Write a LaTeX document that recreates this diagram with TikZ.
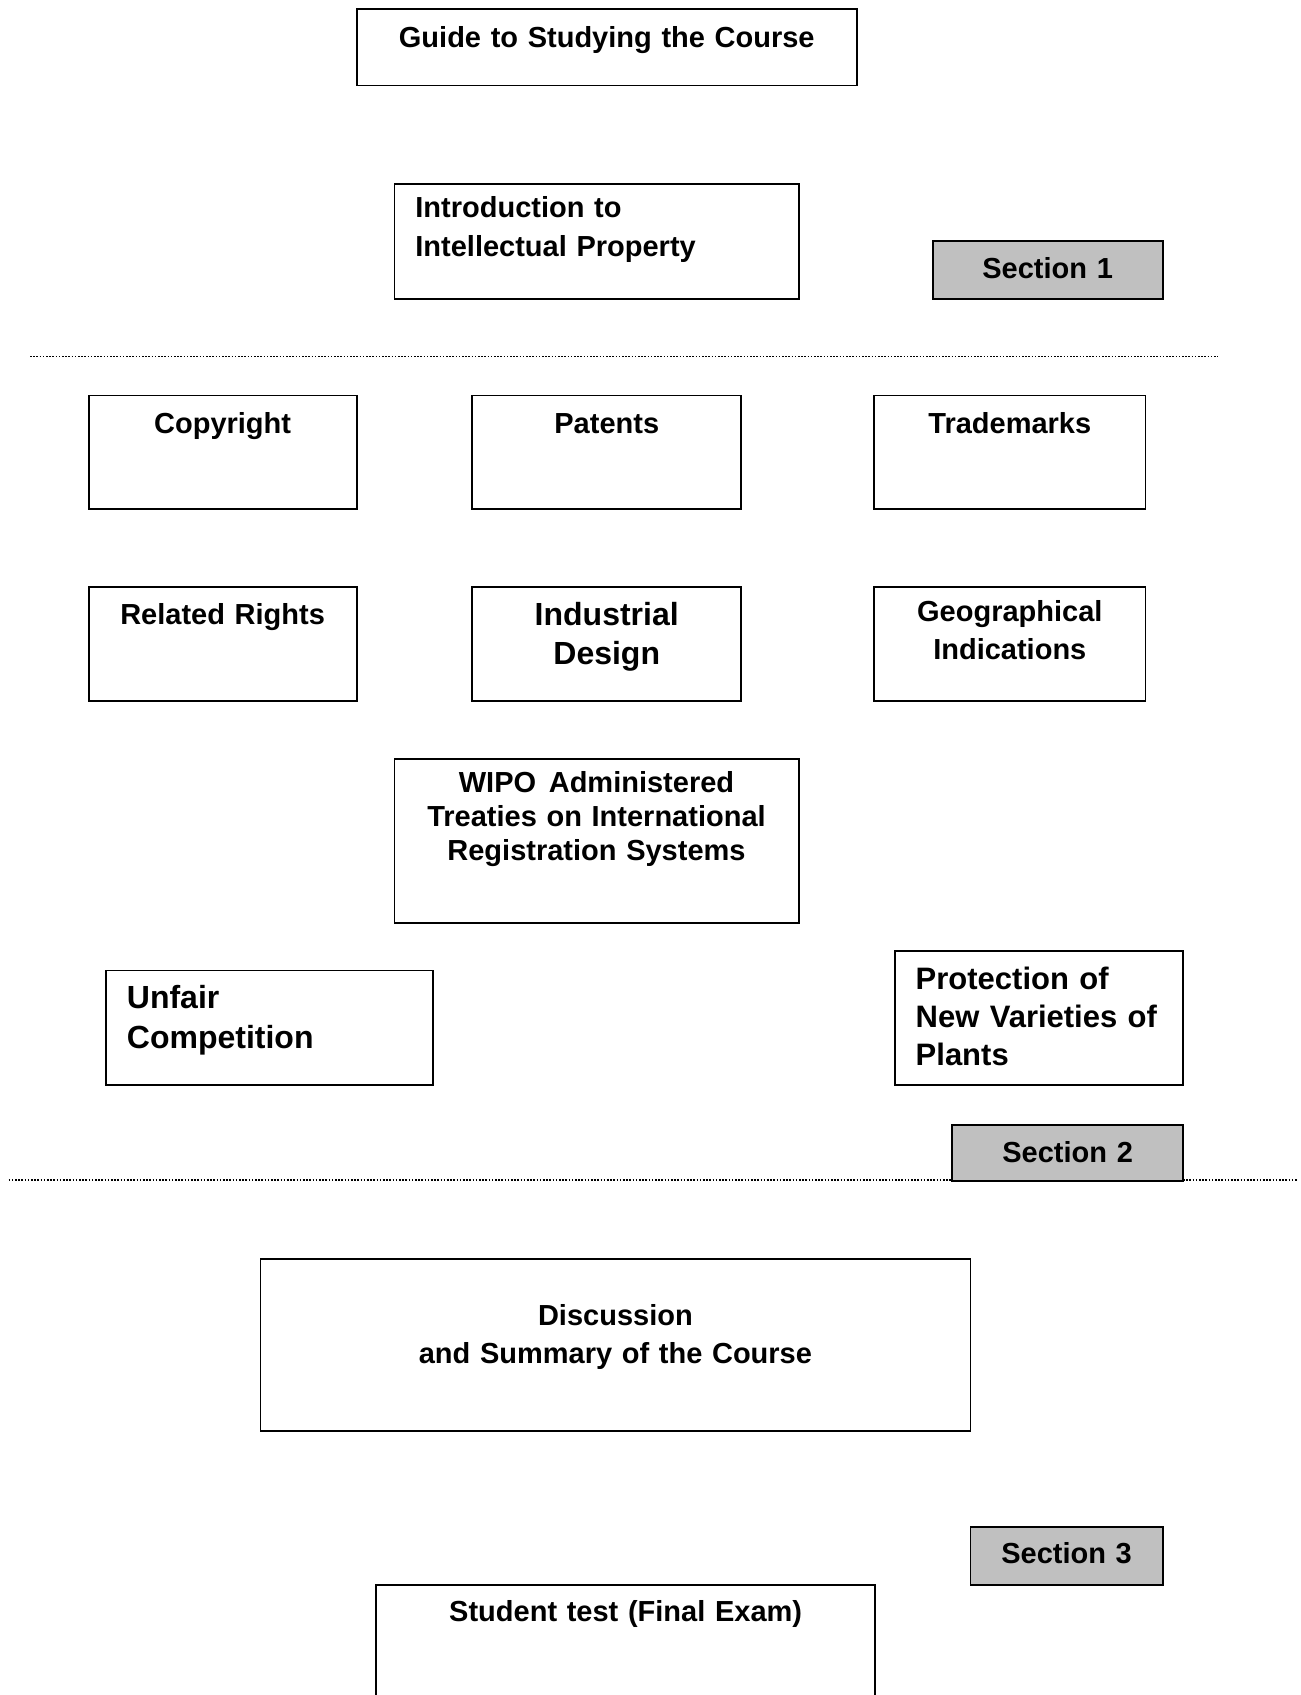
\documentclass[tikz,border=0pt]{standalone}
\usepackage{fontspec}
\setmainfont{Liberation Sans}

\begin{document}
\begin{tikzpicture}[x=1pt, y=-1pt,
	box/.style={draw, line width=1.8pt, outer sep=0pt, inner xsep=21pt, inner ysep=0pt,
		anchor=north west, align=center, font=\fontsize{29}{38}\selectfont\bfseries},
	secbox/.style={box, fill=cSection},
	divider/.style={line width=1.5pt, dash pattern=on 1.5pt off 1.7pt}]
	\definecolor{cSection}{HTML}{C0C0C0}

	\useasboundingbox (0,0) rectangle (1301,1695);

	% section dividers
	\draw[divider] (30,356.6) -- (1218,356.6);
	\draw[divider] (8.6,1180) -- (1297,1180);

	% section 1
	\node[box, text width=458.3pt, text height=38.4pt, text depth=38.4pt] (guide) at (356.6,8.6) {Guide to Studying the Course};
	\node[box, align=left, text width=362.2pt, text height=33.3pt, text depth=82.3pt,
		font=\fontsize{29}{39}\selectfont\bfseries] (intro) at (394.4,183.7) {Introduction to\\Intellectual~Property};
	\node[secbox, text width=188.1pt, text height=37.5pt, text depth=20.8pt] (sec1) at (932.6,241) {Section 1};

	% section 2
	\node[box, text width=226pt, text height=37.5pt, text depth=76pt] (copyright) at (88.6,395.5) {Copyright};
	\node[box, text width=227.1pt, text height=37.5pt, text depth=76pt] (patents) at (472.2,395.5) {Patents};
	\node[box, text width=229.2pt, text height=37.5pt, text depth=76pt] (trademarks) at (874.2,395.5) {Trademarks};

	\node[box, text width=226pt, text height=37.7pt, text depth=76.8pt] (related) at (88.6,586.8) {Related~Rights};
	\node[box, text width=227.1pt, text height=38.2pt, text depth=76.3pt,
		font=\fontsize{32}{39}\selectfont\bfseries] (design) at (472.2,586.8) {Industrial\\Design};
	\node[box, text width=229.2pt, text height=34.2pt, text depth=80.3pt] (geo) at (874.2,586.8) {Geographical\\Indications};

	\node[box, text width=362.2pt, text height=33.4pt, text depth=130.8pt,
		font=\fontsize{29}{34}\selectfont\bfseries] (wipo) at (394.4,758.6) {WIPO~\kern3pt Administered\\Treaties~on~International\\Registration~Systems};

	\node[box, align=left, text width=285.4pt, text height=37.6pt, text depth=76.9pt,
		font=\fontsize{32}{40}\selectfont\bfseries] (unfair) at (105.9,970.4) {Unfair\\Competition};
	\node[box, align=left, text width=246.6pt, text height=38pt, text depth=95.9pt,
		font=\fontsize{31}{38}\selectfont\bfseries] (plants) at (894.7,951) {Protection~of\\New~Varieties~of\\Plants};
	\node[secbox, text width=189.3pt, text height=37.5pt, text depth=18.6pt] (sec2) at (952,1124.9) {Section 2};

	% section 3
	\node[box, text width=668pt, text height=66.6pt, text depth=105.2pt] (summary) at (260.4,1258.9) {Discussion\\and~Summary~of~the~Course};
	\node[secbox, text width=150.3pt, text height=36.4pt, text depth=21.9pt] (sec3) at (970.4,1526.9) {Section 3};
	\node[box, text width=457.3pt, text height=36.5pt, text depth=200pt] (exam) at (376,1585.2) {Student~test~(Final~Exam)};
\end{tikzpicture}
\end{document}
